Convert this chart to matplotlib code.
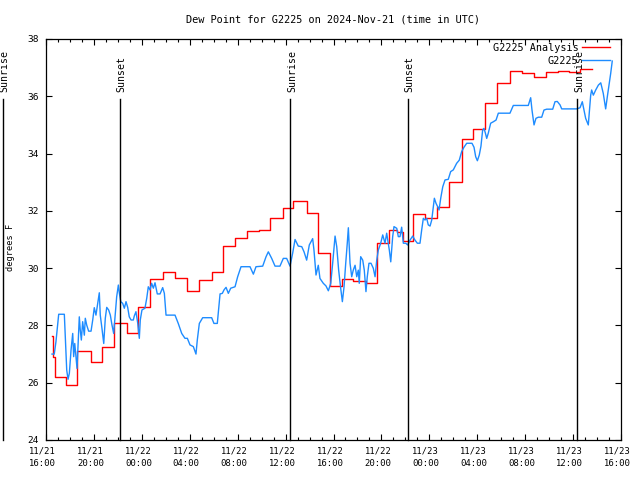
import matplotlib
matplotlib.use("Agg")
import matplotlib.pyplot as plt
import matplotlib.dates as mdates
from matplotlib.transforms import ScaledTranslation
import pandas as pd

# hours after 2024-11-21 16:00 UTC
start = pd.Timestamp("2024-11-21 16:00")

analysis_hours = [0.53, 0.62, 0.75, 1.67, 2.61, 3.73, 4.65, 5.68, 6.74, 7.71, 8.68,
                  9.79, 10.77, 11.75, 12.77, 13.83, 14.75, 15.78, 16.78, 17.78, 18.70,
                  19.76, 20.64, 21.76, 22.73, 23.71, 24.68, 25.65, 26.71, 27.66, 28.63,
                  29.28, 29.78, 30.66, 31.64, 32.64, 33.64, 34.70, 35.67, 36.65, 37.67,
                  38.73, 39.71, 40.76, 41.74, 42.77, 43.69, 44.58, 45.55]
analysis_vals = [27.63, 26.91, 26.19, 25.91, 27.12, 26.72, 27.23, 28.09, 27.72, 28.63, 29.61,
                 29.85, 29.67, 29.19, 29.58, 29.86, 30.77, 31.04, 31.29, 31.33, 31.74,
                 32.09, 32.33, 31.92, 30.52, 29.38, 29.61, 29.55, 29.47, 30.89, 31.33,
                 31.27, 30.95, 31.89, 31.74, 32.13, 33.00, 34.50, 34.85, 35.75, 36.47,
                 36.89, 36.83, 36.66, 36.86, 36.90, 36.86, 36.94, 36.94]

obs_hours = [0.50, 0.69, 0.83, 1.06, 1.53, 1.61, 1.73, 1.84, 1.95, 2.09, 2.23, 2.31, 2.40,
             2.50, 2.59, 2.67, 2.78, 2.86, 2.95, 3.06, 3.20, 3.28, 3.40, 3.56, 3.76, 3.90,
             4.03, 4.17, 4.32, 4.45, 4.53, 4.67, 4.82, 4.95, 5.07, 5.23, 5.37, 5.51, 5.65,
             5.76, 5.90, 6.04, 6.12, 6.24, 6.40, 6.54, 6.68, 6.82, 6.95, 7.10, 7.29, 7.37,
             7.51, 7.66, 7.79, 7.87, 8.01, 8.26, 8.41, 8.54, 8.68, 8.82, 8.96, 9.10, 9.29,
             9.52, 9.74, 9.88, 10.02, 10.77, 11.04, 11.33, 11.60, 11.80, 12.02, 12.30,
             12.52, 12.63, 12.80, 13.08, 13.83, 14.02, 14.30, 14.42, 14.53, 14.72, 14.86,
             15.03, 15.22, 15.42, 15.78, 16.00, 16.28, 17.03, 17.31, 17.53, 18.09, 18.37,
             18.56, 18.84, 19.12, 19.53, 19.81, 20.09, 20.37, 20.59, 20.79, 21.06, 21.35,
             21.54, 21.76, 21.98, 22.26, 22.37, 22.54, 22.73, 22.87, 23.15, 23.37, 23.57,
             23.77, 23.93, 24.13, 24.27, 24.43, 24.60, 24.74, 24.88, 25.02, 25.15, 25.24,
             25.38, 25.52, 25.65, 25.80, 25.94, 26.07, 26.15, 26.27, 26.44, 26.57, 26.71,
             26.82, 26.96, 27.13, 27.32, 27.47, 27.61, 27.74, 27.94, 28.11, 28.30, 28.44,
             28.66, 28.78, 28.94, 29.05, 29.28, 29.41, 29.55, 29.69, 29.83, 30.03, 30.19,
             30.39, 30.61, 30.80, 31.00, 31.22, 31.36, 31.50, 31.64, 31.78, 31.91, 32.06,
             32.20, 32.33, 32.42, 32.56, 32.70, 32.81, 32.95, 33.12, 33.31, 33.58, 33.78,
             34.00, 34.28, 34.50, 34.70, 34.89, 35.12, 35.56, 35.73, 35.87, 36.01, 36.17,
             36.31, 36.45, 36.56, 36.67, 36.79, 36.92, 37.12, 37.34, 37.57, 37.76, 38.73,
             39.01, 40.26, 40.46, 40.57, 40.74, 40.90, 41.10, 41.38, 41.57, 41.80, 42.30,
             42.49, 42.68, 42.91, 43.05, 44.30, 44.58, 44.77, 44.91, 45.05, 45.27, 45.47,
             45.55, 45.69, 45.89, 46.11, 46.31, 46.52, 46.72, 46.86, 47.00, 47.14, 47.27]
obs_vals = [27.00, 27.00, 27.43, 28.39, 28.39, 27.60, 26.44, 26.12, 26.33, 27.14, 27.72, 26.91,
            27.37, 26.91, 26.50, 27.26, 28.30, 27.84, 27.49, 28.13, 27.66, 28.25, 28.01, 27.80,
            27.80, 28.19, 28.62, 28.36, 28.77, 29.14, 28.36, 27.90, 27.37, 28.25, 28.63, 28.54,
            28.36, 28.01, 27.72, 28.30, 29.00, 29.41, 29.14, 28.83, 28.77, 28.60, 28.83, 28.63,
            28.30, 28.19, 28.19, 28.33, 28.48, 28.07, 27.55, 28.19, 28.54, 28.60, 28.95, 29.35,
            29.24, 29.47, 29.30, 29.49, 29.10, 29.10, 29.32, 29.12, 28.36, 28.36, 28.07, 27.72,
            27.55, 27.55, 27.32, 27.26, 27.00, 27.49, 28.07, 28.27, 28.27, 28.07, 28.07, 28.60,
            29.10, 29.12, 29.24, 29.33, 29.12, 29.30, 29.35, 29.70, 30.05, 30.05, 29.79, 30.05,
            30.07, 30.40, 30.57, 30.34, 30.07, 30.07, 30.34, 30.34, 30.07, 30.52, 31.00, 30.77,
            30.75, 30.57, 30.28, 30.81, 31.03, 30.63, 29.76, 30.10, 29.64, 29.47, 29.38, 29.21,
            29.47, 30.17, 31.12, 30.75, 29.93, 29.30, 28.83, 29.35, 30.17, 30.87, 31.41, 30.17,
            29.70, 29.93, 30.10, 29.70, 29.93, 29.47, 30.40, 30.28, 29.93, 29.18, 29.70, 30.17,
            30.17, 30.00, 29.70, 30.28, 30.63, 30.87, 31.16, 30.87, 31.22, 30.63, 30.22, 31.10,
            31.45, 31.39, 31.10, 31.10, 31.43, 30.87, 30.87, 30.81, 30.98, 31.12, 30.98, 30.87,
            30.87, 31.33, 31.74, 31.68, 31.74, 31.51, 31.47, 31.68, 32.14, 32.44, 32.26, 32.14,
            32.03, 32.44, 32.84, 33.08, 33.10, 33.37, 33.43, 33.66, 33.77, 34.07, 34.22, 34.36,
            34.36, 34.22, 33.89, 33.75, 33.95, 34.26, 34.82, 34.88, 34.73, 34.53, 34.71, 35.06,
            35.11, 35.17, 35.41, 35.41, 35.68, 35.68, 35.95, 35.52, 35.00, 35.23, 35.27, 35.27,
            35.52, 35.55, 35.55, 35.81, 35.82, 35.70, 35.56, 35.56, 35.60, 35.81, 35.52, 35.23,
            35.00, 36.04, 36.22, 36.04, 36.22, 36.39, 36.47, 36.10, 35.56, 35.99, 36.39, 36.80,
            37.23]

sun_hours = [-3.62, 6.20, 20.40, 30.25, 44.36]
sun_labels = ["Sunrise", "Sunset", "Sunrise", "Sunset", "Sunrise"]

plt.rcParams['font.family'] = 'DejaVu Sans Mono'
plt.rcParams['font.size'] = 7.2

fig = plt.figure(figsize=(6.4, 4.8), dpi=100)
ax = fig.add_axes([46/640, 40/480, 575/640, 401/480])

t_an = start + pd.to_timedelta(analysis_hours, unit="h")
t_obs = start + pd.to_timedelta(obs_hours, unit="h")
t_sun = start + pd.to_timedelta(sun_hours, unit="h")

ax.plot(t_an, analysis_vals, color="#ff0000", lw=1.0, drawstyle="steps-post",
        label="G2225 Analysis")
ax.plot(t_obs, obs_vals, color="#1e8cff", lw=1.0, label="G2225")

nudge = ScaledTranslation(1.5/100, 0, fig.dpi_scale_trans)
for t, lab in zip(t_sun, sun_labels):
    ax.plot([t, t], [24, 35.9], color="black", lw=1.0, clip_on=False)
    ax.text(t, 36.15, lab, rotation=90, ha="center", va="bottom", clip_on=False,
            fontsize=7.1, transform=ax.transData + nudge)

ax.set_xlim(start, start + pd.Timedelta(hours=48))
ax.set_ylim(24, 38)
ax.set_yticks(range(24, 39, 2))
ax.xaxis.set_major_locator(mdates.HourLocator(byhour=range(0, 24, 4)))
ax.xaxis.set_minor_locator(mdates.HourLocator())
ax.xaxis.set_major_formatter(mdates.DateFormatter("%m/%d\n%H:%M"))

ax.tick_params(which="both", direction="in", top=True, right=True)
ax.tick_params(which="major", length=4.5, width=0.8)
ax.tick_params(which="minor", length=2.2, width=0.8)
ax.tick_params(axis="x", pad=5, labelsize=6.4)
ax.tick_params(axis="y", pad=5, labelsize=6.8)
for s in ax.spines.values():
    s.set_linewidth(0.9)

ax.set_title("Dew Point for G2225 on 2024-Nov-21 (time in UTC)", pad=12, fontsize=7.4)
ax.set_ylabel("degrees F", fontsize=6.2)
ax.yaxis.set_label_coords(-0.054, 0.48)

ax.legend(loc="upper right", bbox_to_anchor=(610/640, 1 - 43/480),
          bbox_transform=fig.transFigure, frameon=False, markerfirst=False,
          borderpad=0, borderaxespad=0, handlelength=2.8, handletextpad=0.3,
          labelspacing=0.25, fontsize=7.3)

fig.canvas.draw()
shift = ScaledTranslation(-3.5/100, 0, fig.dpi_scale_trans)
for lbl in ax.get_xticklabels():
    lbl.set_linespacing(1.5)
    lbl.set_transform(lbl.get_transform() + shift)

fig.savefig("out.png", dpi=100)
